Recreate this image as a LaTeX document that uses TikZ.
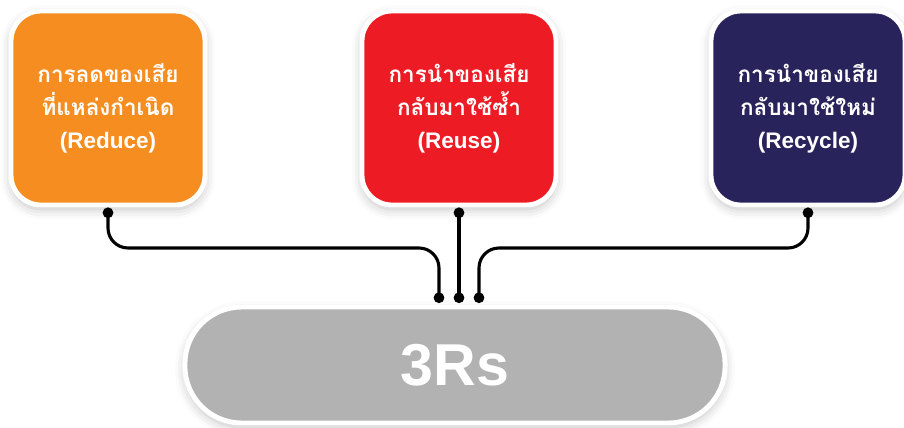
\documentclass[tikz,border=0pt]{standalone}
\usepackage{fontspec}
\setmainfont{Liberation Sans}
\newfontfamily\thaifont[Script=Thai]{Loma}
\usetikzlibrary{arrows.meta,shadows.blur,calc}
\definecolor{rorange}{HTML}{F58D20}
\definecolor{rred}{HTML}{ED1C24}
\definecolor{rnavy}{HTML}{29235C}
\definecolor{rgray}{HTML}{B2B2B2}
\begin{document}
\begin{tikzpicture}[x=0.025cm,y=-0.025cm]
% the styles
\tikzset{rbox/.style={rectangle, rounded corners=0.75cm, draw=white, line width=3.5pt,
    minimum width=4.85cm, minimum height=4.85cm, text=white, align=center,
    font=\fontsize{16}{23.5}\selectfont\bfseries,
    blur shadow={shadow xshift=0pt, shadow yshift=-3pt, shadow blur radius=7pt, shadow opacity=25}},
  pill/.style={rectangle, rounded corners=1.42cm, draw=white, line width=3.5pt, fill=rgray,
    minimum width=13.5cm, minimum height=2.9cm, text=white,
    font=\fontsize{42}{50}\selectfont\bfseries,
    blur shadow={shadow xshift=0pt, shadow yshift=-3pt, shadow blur radius=7pt, shadow opacity=25}},
  wire/.style={line width=2.2pt, rounded corners=0.5cm, {Circle[length=7.5pt]}-{Circle[length=7.5pt]}}}
\useasboundingbox (0,0) rectangle (904,428);
% the three boxes
\node[rbox, fill=rorange] (reduce) at (108,108) {{\thaifont\bfseries การลดของเสีย}\\{\thaifont\bfseries ที่แหล่งกำเนิด}\\(Reduce)};
\node[rbox, fill=rred] (reuse) at (459,108) {{\thaifont\bfseries การนำของเสีย}\\{\thaifont\bfseries กลับมาใช้ซ้ำ}\\(Reuse)};
\node[rbox, fill=rnavy] (recycle) at (808,108) {{\thaifont\bfseries การนำของเสีย}\\{\thaifont\bfseries กลับมาใช้ใหม่}\\(Recycle)};
% the 3Rs bar
\node[pill] (rs) at (455,365) {3Rs};
% the ends of the wires
\coordinate (inA) at (439,303);
\coordinate (inB) at (459,303);
\coordinate (inC) at (479,303);
% the wires
\draw[wire] (reduce.south) |- ($(inA)+(0,-55)$) -- (inA);
\draw[wire] (reuse.south) -- (inB);
\draw[wire] (recycle.south) |- ($(inC)+(0,-55)$) -- (inC);
\end{tikzpicture}
\end{document}
